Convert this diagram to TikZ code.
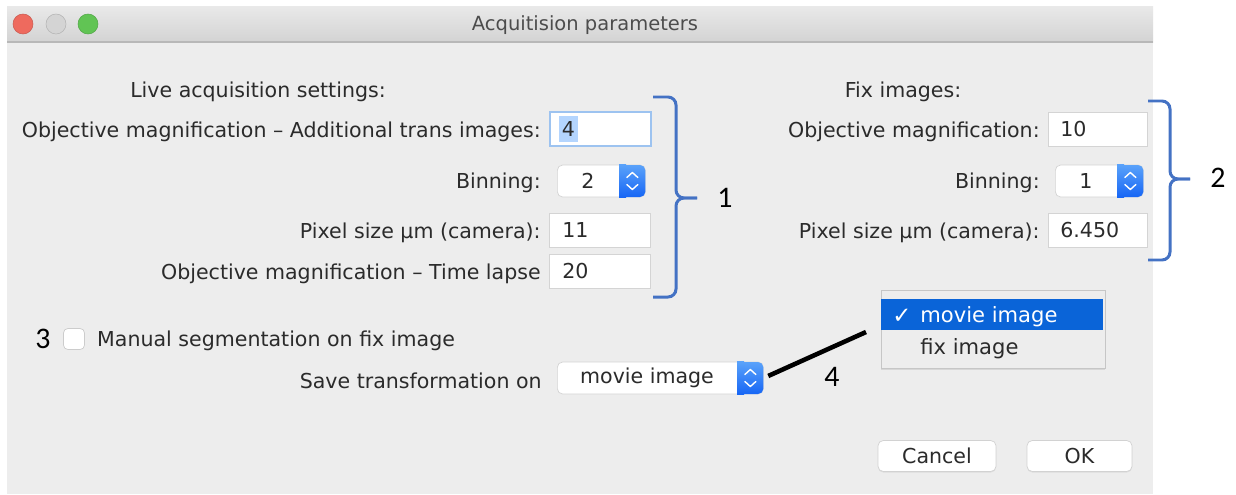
\documentclass[tikz,border=0pt]{standalone}
\usepackage{fontspec}
\setmainfont{DejaVu Sans}
\newfontfamily\numfont{Carlito}
\usetikzlibrary{positioning,calc,shadows}

\definecolor{winbg}{HTML}{EDEDED}
\definecolor{tbtop}{HTML}{E9E9E9}
\definecolor{tbbot}{HTML}{D3D3D3}
\definecolor{tbline}{HTML}{B8B8B8}
\definecolor{txt}{HTML}{2B2B2B}
\definecolor{fldline}{HTML}{D4D4D4}
\definecolor{focus}{HTML}{9DC3F0}
\definecolor{sel}{HTML}{B4D5FE}
\definecolor{braceblue}{HTML}{4472C4}
\definecolor{cbtop}{HTML}{5AA2FA}
\definecolor{cbbot}{HTML}{1766F5}
\definecolor{menusel}{HTML}{0A64D8}
\definecolor{lightred}{HTML}{EE6A5E}
\definecolor{lightgry}{HTML}{D4D4D4}
\definecolor{lightgrn}{HTML}{61C454}

\newcommand{\combobox}[4]{%
  \node[cbox, minimum width=#3*\s cm, anchor=west] (#1) at #2 {};
  \node[cbtn, anchor=east] (#1btn) at (#1.east) {};
  \shade[top color=cbtop, bottom color=cbbot] (#1btn.north west) rectangle ([xshift=4pt]#1btn.south west);
  \node[val] (#1txt) at ($(#1.west)!0.5!(#1btn.west)$) {#4};
  \draw[chev] ($(#1btn.center)+(-5.5,-3.5)$) -- ++(5.5,-5) -- ++(5.5,5);
  \draw[chev] ($(#1btn.center)+(-5.5,3.5)$) -- ++(5.5,5) -- ++(5.5,-5);
}

\begin{document}
\begin{tikzpicture}[x=0.02cm, y=-0.02cm,
    every node/.style={font=\fontsize{11.7}{14}\selectfont, text=txt},
    lbl/.style={anchor=east, inner sep=0pt, yshift=-0.04cm},
    head/.style={inner sep=0pt, yshift=-0.04cm},
    fld/.style={draw=fldline, fill=white, minimum height=34*\s cm, anchor=west, inner sep=0pt},
    val/.style={inner sep=0pt},
    cbox/.style={draw=fldline, fill=white, rounded corners=3pt, minimum height=32*\s cm, inner sep=0pt},
    cbtn/.style={top color=cbtop, bottom color=cbbot, rounded corners=3pt, minimum width=26*\s cm, minimum height=32*\s cm, inner sep=0pt},
    chev/.style={white, line width=0.8pt, line cap=round, line join=round},
    light/.style={circle, fill=#1, draw=#1!85!black, line width=0.3pt, minimum size=20*\s cm, inner sep=0pt},
    brace/.style={braceblue, line width=1.7pt, rounded corners=0.16cm},
    num/.style={text=black, font=\numfont\fontsize{17}{20}\selectfont, inner sep=0pt},
    item/.style={anchor=west, inner sep=0pt, font=\fontsize{12}{14}\selectfont, yshift=-0.03cm},
    btn/.style={draw=gray!35, fill=white, rounded corners=3pt, minimum width=#1*\s cm, minimum height=31*\s cm, inner sep=0pt, drop shadow={opacity=0.15, shadow xshift=0pt, shadow yshift=-0.6pt}},
]
\def\s{0.02}
\useasboundingbox[fill=white] (0,0) rectangle (1236,494);
\fill[winbg] (7,6) rectangle (1153,494);
\shade[top color=tbtop, bottom color=tbbot] (7,6) rectangle (1153,42);
\draw[tbline, line width=0.6pt] (7,42) -- (1153,42);
\node[light=lightred] (btnClose) at (23,24) {};
\node[light=lightgry] (btnMin) at (56,24) {};
\node[light=lightgrn] (btnZoom) at (88,24) {};
\node[text=black!70, font=\fontsize{11.1}{13}\selectfont] (title) at (585,25) {Acquitision parameters};

\node[head] (hdLive) at (258,90) {Live acquisition settings:};
\node[lbl] (lbTrans) at (541,130) {Objective magnification -- Additional trans images:};
\node[fld, minimum width=101*\s cm, draw=focus, line width=1pt] (fldTrans) at (549,129) {};
\node[val, fill=sel, inner xsep=1.5pt, inner ysep=3pt, right=0.2cm of fldTrans.west] (vTrans) {4};

\node[lbl] (lbBinL) at (541,181) {Binning:};
\combobox{cbBinL}{(557,181)}{88}{2}

\node[lbl] (lbPixL) at (541,231) {Pixel size µm (camera):};
\node[fld, minimum width=101*\s cm] (fldPixL) at (549,230) {};
\node[val, right=0.26cm of fldPixL.west] (vPixL) {11};

\node[lbl] (lbLapse) at (541,272) {Objective magnification -- Time lapse};
\node[fld, minimum width=101*\s cm] (fldLapse) at (549,271) {};
\node[val, right=0.26cm of fldLapse.west] (vLapse) {20};

\draw[brace] (653,97) -| (676,198) -- (697,198);
\draw[brace] (697,198) -- (676,198) |- (653,297);
\node[num] (n1) at (725,198) {1};

\node[head] (hdFix) at (903,90) {Fix images:};
\node[lbl] (lbObjR) at (1040,130) {Objective magnification:};
\node[fld, minimum width=99*\s cm] (fldObjR) at (1048,129) {};
\node[val, right=0.24cm of fldObjR.west] (vObjR) {10};

\node[lbl] (lbBinR) at (1040,181) {Binning:};
\combobox{cbBinR}{(1055,181)}{88}{1}

\node[lbl] (lbPixR) at (1040,231) {Pixel size µm (camera):};
\node[fld, minimum width=99*\s cm] (fldPixR) at (1048,230) {};
\node[val, right=0.24cm of fldPixR.west] (vPixR) {6.450};

\draw[brace] (1148,101) -| (1170,179) -- (1190,179);
\draw[brace] (1190,179) -- (1170,179) |- (1148,260);
\node[num] (n2) at (1218,178) {2};

\node[num] (n3) at (43,339) {3};
\node[draw=gray!40, fill=white, rounded corners=2.5pt, minimum size=21*\s cm, inner sep=0pt] (chkSeg) at (74,339) {};
\node[inner sep=0pt, yshift=-0.04cm, right=0.24cm of chkSeg.east] (lbSeg) {Manual segmentation on fix image};

\node[lbl] (lbSave) at (542,379) {Save transformation on};
\combobox{cbSave}{(557,378)}{206}{movie image}

\node[draw=gray!45, fill=winbg, minimum width=224*\s cm, minimum height=78*\s cm, inner sep=0pt, drop shadow={opacity=0.2, shadow xshift=0pt, shadow yshift=-1pt}] (popup) at (993,329) {};
\node[fill=menusel, minimum width=222*\s cm, minimum height=31*\s cm, inner sep=0pt] (itMovie) at (992,314) {};
\node[item, text=white, font=\fontsize{13}{14}\selectfont] (ckMovie) at (892,315) {✓};
\node[item, text=white] (txMovie) at (920,315) {movie image};
\node[item] (txFix) at (920,347) {fix image};

\coordinate (lnEnd) at (866,332);
\draw[black, line width=2.6pt, shorten <=0.1cm] (cbSave.east) -- (lnEnd);
\node[num] (n4) at (832,377) {4};

\node[btn=118] (btnCancel) at (937,456) {Cancel};
\node[btn=105] (btnOK) at (1079.5,456) {OK};
\end{tikzpicture}
\end{document}
